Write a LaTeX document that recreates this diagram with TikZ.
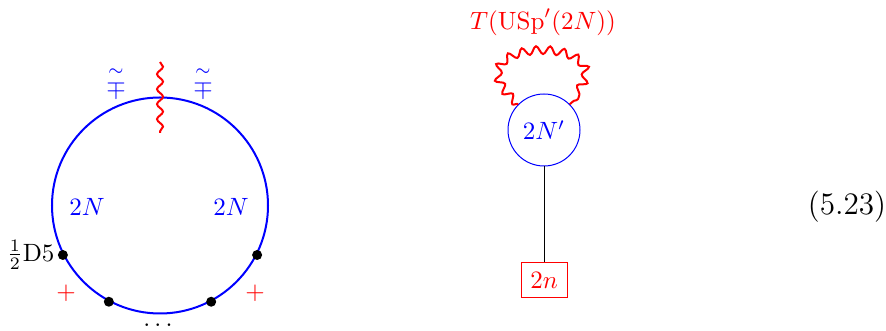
\documentclass[tikz,border=0pt]{standalone}
\usepackage{amsmath}
\usetikzlibrary{decorations.pathmorphing}
\begin{document}
\begin{tikzpicture}[x=0.4pt,y=-0.4pt,
  ring/.style={draw=blue, circle, inner sep=0pt, line width=0.8pt, minimum size=86.4pt},
  gauge/.style={draw=blue, circle, inner sep=0pt, line width=0.4pt, minimum size=28.8pt, text=blue},
  flavour/.style={draw=red, text=red, inner sep=0pt, line width=0.4pt, minimum width=18.4pt, minimum height=14pt},
  dotn/.style={circle, fill=black, inner sep=0pt, minimum size=4pt},
  wavy/.style={red, line width=0.8pt, decorate, decoration={snake, amplitude=1.2pt, segment length=6pt}},
  bluelbl/.style={text=blue},
  redlbl/.style={text=red}]
\useasboundingbox (0,0) rectangle (886,331);
% left ring
\node[ring] (R) at (160,205.5) {};
\coordinate (wt) at (160,62);
\coordinate (wb) at (160,133);
\draw[wavy] (wt) -- (wb);
\node[bluelbl] (s1) at (116,82) {$\overset{\sim}{\mp}$};
\node[bluelbl] (s2) at (203,82) {$\overset{\sim}{\mp}$};
\node[bluelbl] (n1) at (87,207) {$2N$};
\node[bluelbl] (n2) at (231,207) {$2N$};
\node[dotn] (d1) at (R.-153) {};
\node[dotn] (d2) at (R.-118) {};
\node[dotn] (d3) at (R.-62) {};
\node[dotn] (d4) at (R.-27) {};
\node[anchor=east, inner sep=1pt] (h) at (d1.west) {$\frac{1}{2}$D5};
\node[redlbl] (p1) at (66,293) {$+$};
\node[redlbl] (p2) at (255,293) {$+$};
\node (dd) at (160,325) {$\dots$};
% right quiver
\node[gauge] (g) at (544,130) {$2N'$};
\node[flavour] (f) at (544,280) {$2n$};
\draw[line width=0.4pt] (g) -- (f);
\draw[wavy, decoration={snake, amplitude=1.6pt, segment length=5.5pt}] (g.135) .. controls (440,35) and (650,35) .. (g.45);
\node[redlbl] (t) at (543,22) {$T(\mathrm{USp}'(2N))$};
% equation number
\node[font=\fontsize{12.5}{14}\selectfont] (eq) at (847,207) {(5.23)};
\end{tikzpicture}
\end{document}
